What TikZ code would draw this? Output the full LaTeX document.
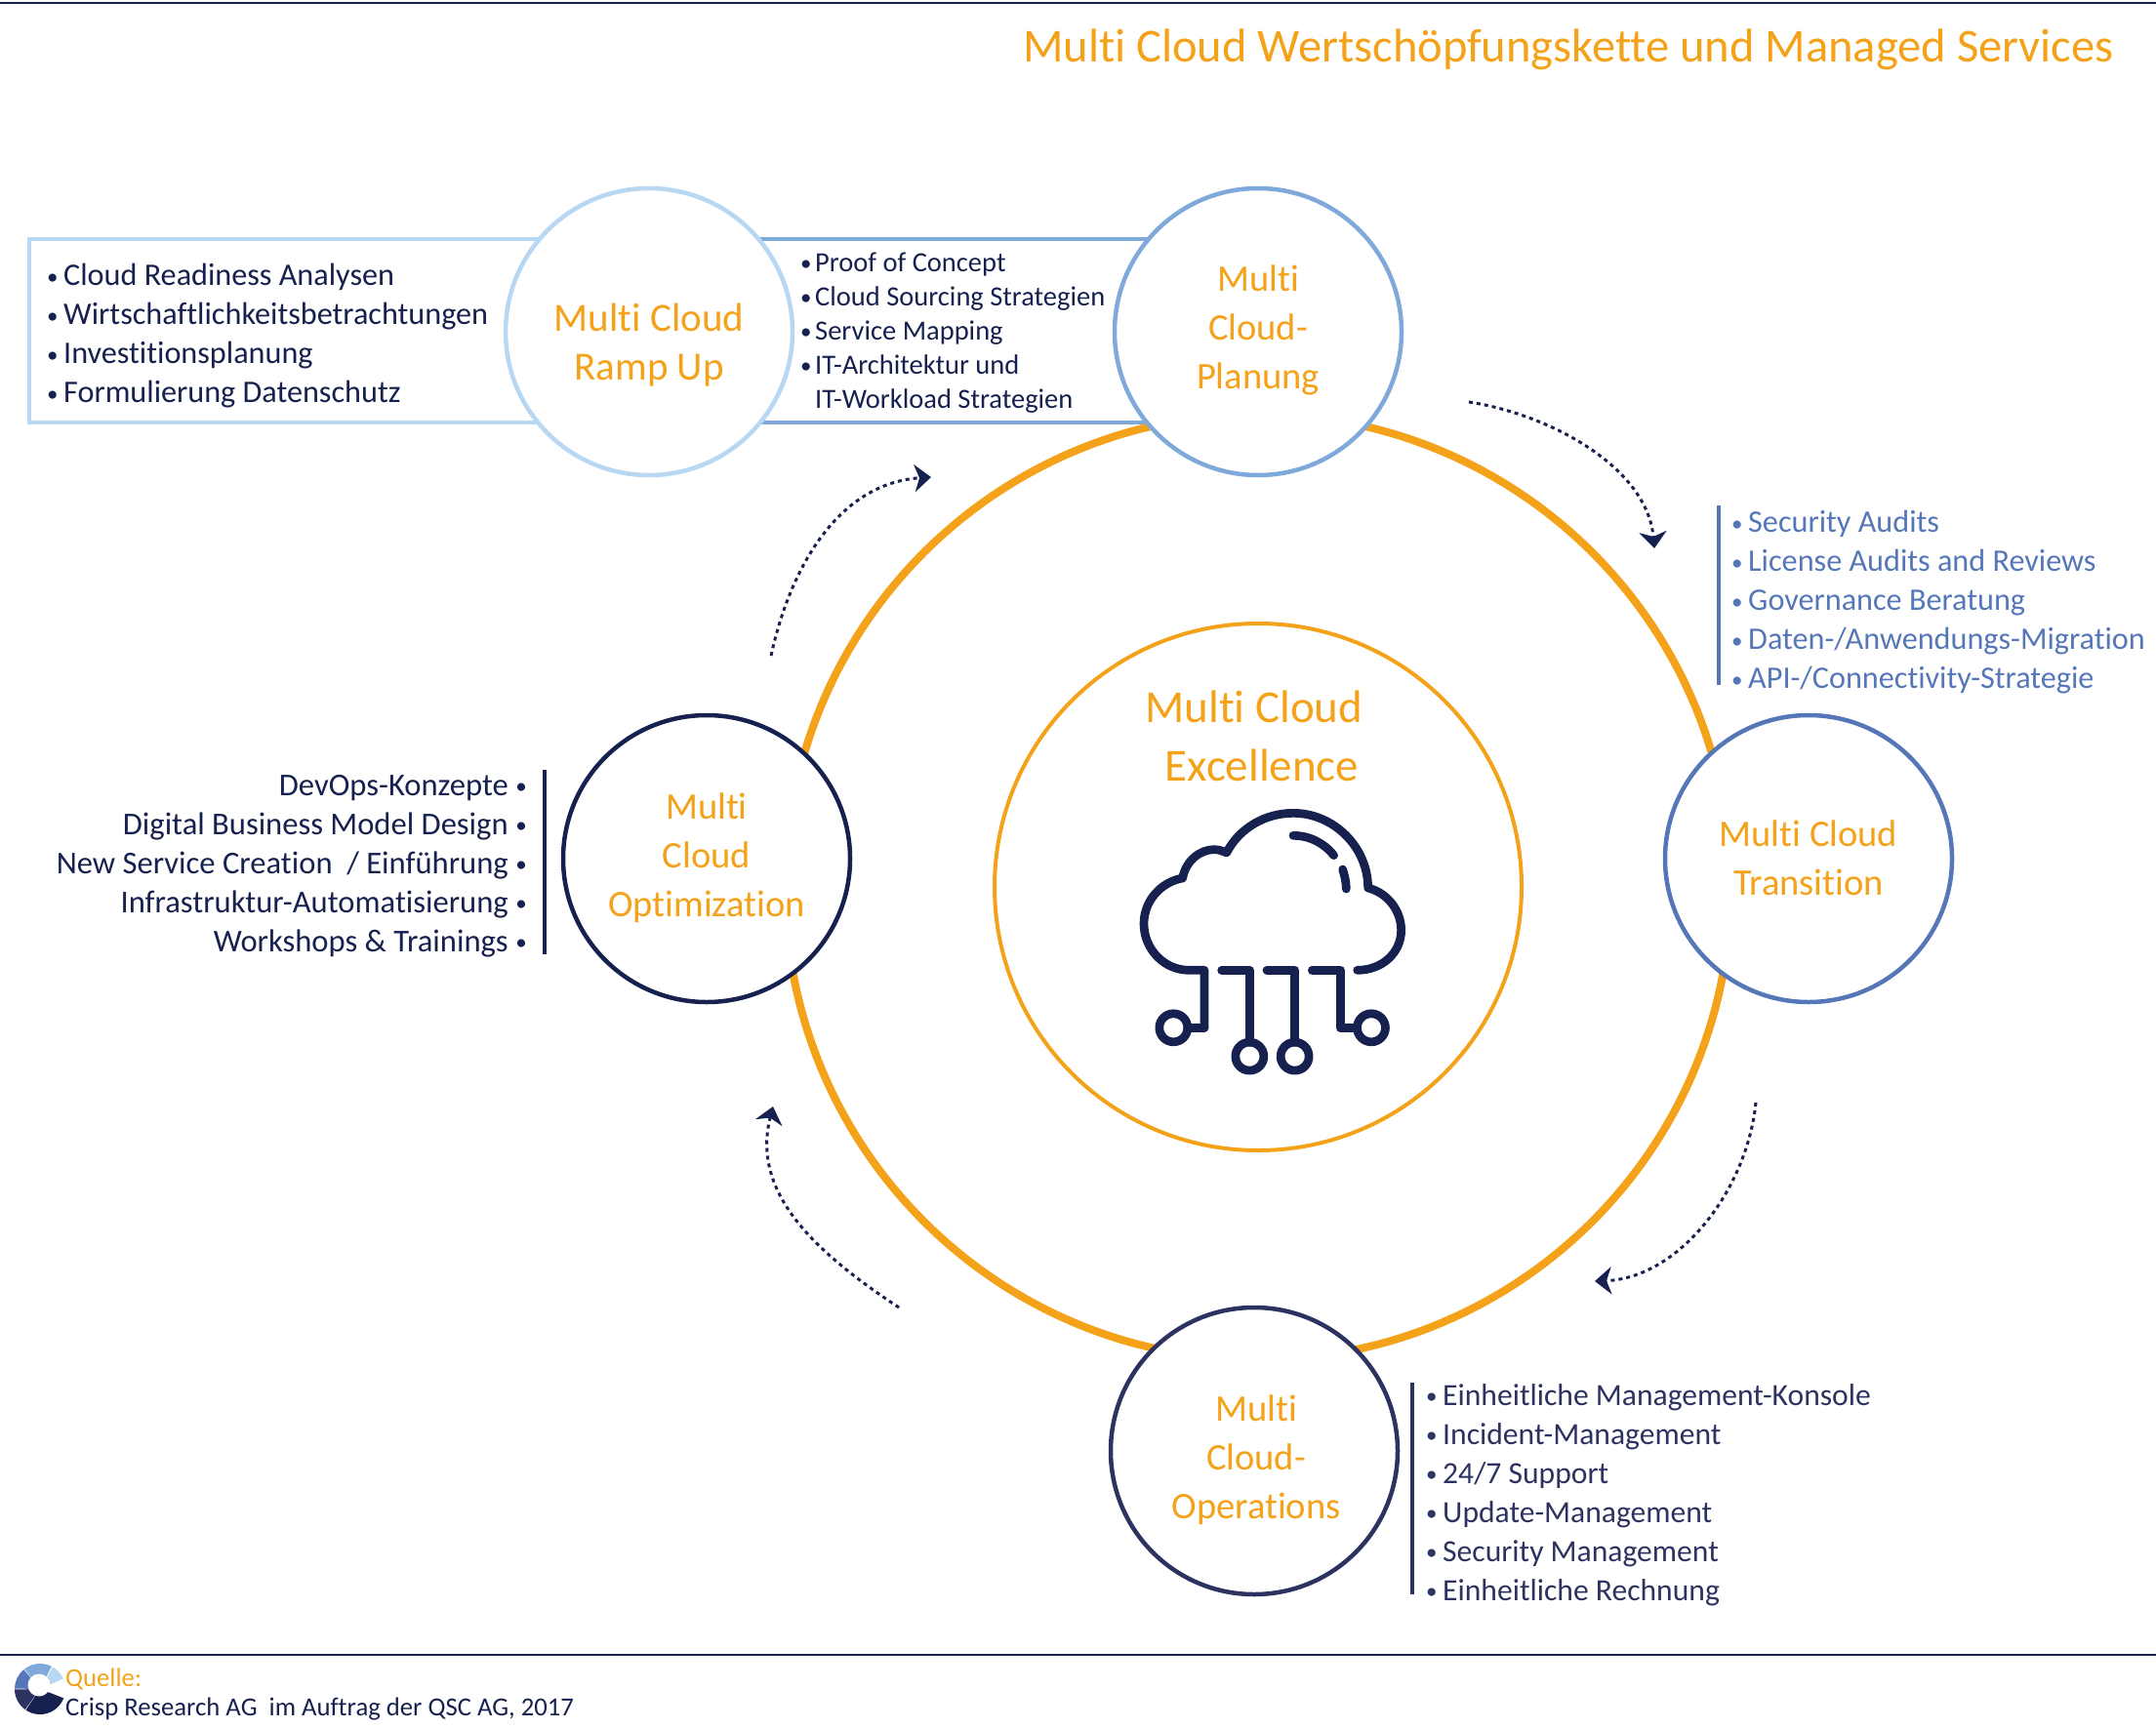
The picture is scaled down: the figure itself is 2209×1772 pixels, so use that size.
\documentclass[tikz,border=0pt]{standalone}
\usepackage{fontspec}
\setmainfont[Ligatures=NoCommon]{Carlito}
\usepackage{tikz}
\usetikzlibrary{arrows.meta}
\definecolor{navy}{HTML}{16214F}
\definecolor{deepnavy}{HTML}{2C3361}
\definecolor{orange}{HTML}{F4A21A}
\definecolor{paleblue}{HTML}{B7D7F2}
\definecolor{midblue}{HTML}{7FA9DB}
\definecolor{steelblue}{HTML}{5577B8}
\newcommand{\dotmark}{\raisebox{1.5pt}{\fontsize{23}{23}\selectfont •}}
\newcommand{\itm}{\makebox[17pt][l]{\dotmark}}
\newcommand{\smallitm}{\makebox[15pt][l]{\dotmark}}
\newcommand{\rightitm}{\makebox[19pt][r]{\dotmark}}

\begin{document}
\begin{tikzpicture}[x=1pt,y=-1pt]
  \tikzstyle{stage}=[circle,draw,fill=white,line width=4.5pt,minimum size=294pt,inner sep=0pt,outer sep=0pt]
  \tikzstyle{stagetext}=[align=center,text=orange,font=\fontsize{38.5}{50}\selectfont]
  \tikzstyle{items}=[anchor=north west,inner sep=0pt,align=left,font=\fontsize{32.2}{40}\selectfont]
  \tikzstyle{bar}=[line width=3.5pt]
  \tikzstyle{flow}=[draw=navy,line width=3pt,dash pattern=on 4pt off 4pt,-{Stealth[length=17pt,width=28pt,inset=5pt]}]
  \tikzstyle{icon}=[draw=navy,line width=8.7pt,line cap=round,line join=round]

  \useasboundingbox (0,0) rectangle (2209,1772);
  \draw[navy,line width=2pt] (0,2.5) -- (2209,2.5);
  \draw[navy,line width=2pt] (0,1696) -- (2209,1696);

  \node[anchor=north east,inner sep=0pt,text=orange,font=\fontsize{48.5}{58}\selectfont] (title) at (2166,29.5) {Multi Cloud Wertschöpfungskette und Managed Services};

  \draw[paleblue,line width=4pt] (665,245) -- (30,245) -- (30,433) -- (665,433);
  \draw[midblue,line width=4pt] (665,245) -- (1289,245);
  \draw[midblue,line width=4pt] (665,433) -- (1289,433);

  \node[circle,draw=orange,line width=8pt,minimum size=969pt,inner sep=0pt] (ring) at (1289,909) {};
  \node[circle,draw=orange,line width=4pt,minimum size=540pt,inner sep=0pt] (core) at (1289,909) {};

  \node[stage,draw=paleblue] (rampup) at (665,340) {};
  \node[stage,draw=midblue] (planung) at (1289,340) {};
  \node[stage,draw=steelblue] (transition) at (1853,880) {};
  \node[stage,draw=deepnavy] (operations) at (1285,1487) {};
  \node[stage,draw=navy] (optimization) at (724,880) {};

  \node[stagetext,font=\fontsize{41}{50}\selectfont] (rampuplabel) at (665,354) {Multi Cloud\\Ramp Up};
  \node[stagetext] (planunglabel) at (1289,338) {Multi\\Cloud-\\Planung};
  \node[stagetext] (transitionlabel) at (1853,879) {Multi Cloud\\Transition};
  \node[stagetext] (operationslabel) at (1287,1496) {Multi\\Cloud-\\Operations};
  \node[stagetext] (optimizationlabel) at (724,879) {Multi\\Cloud\\Optimization};
  \node[stagetext,font=\fontsize{47}{60}\selectfont] (corelabel) at (1285,754) {Multi Cloud\\\hspace*{16pt}Excellence};

  \node[items,text=navy] (readiness) at (48,270) {\itm Cloud Readiness Analysen\\\itm Wirtschaftlichkeitsbetrachtungen\\\itm Investitionsplanung\\\itm Formulierung Datenschutz};
  \node[items,text=navy,font=\fontsize{28.5}{35}\selectfont] (concept) at (820,259) {\smallitm Proof of Concept\\\smallitm Cloud Sourcing Strategien\\\smallitm Service Mapping\\\smallitm IT-Architektur und\\\makebox[15pt][l]{}IT-Workload Strategien};
  \node[items,text=steelblue] (audits) at (1774,523) {\itm Security Audits\\\itm License Audits and Reviews\\\itm Governance Beratung\\\itm Daten-/Anwendungs-Migration\\\itm API-/Connectivity-Strategie};
  \node[items,anchor=north east,align=right,text=navy,font=\fontsize{32.6}{40}\selectfont] (devops) at (540,794) {DevOps-Konzepte\rightitm\\Digital Business Model Design\rightitm\\New Service Creation ~/ Einführung\rightitm\\Infrastruktur-Automatisierung\rightitm\\Workshops \& Trainings\rightitm};
  \node[items,text=deepnavy,font=\fontsize{31.6}{40}\selectfont] (konsole) at (1461,1418) {\itm Einheitliche Management-Konsole\\\itm Incident-Management\\\itm 24/7 Support\\\itm Update-Management\\\itm Security Management\\\itm Einheitliche Rechnung};

  \coordinate (auditsup) at (1761,518);
  \coordinate (auditsdown) at (1761,702);
  \coordinate (devopsup) at (558,789);
  \coordinate (devopsdown) at (558,978);
  \coordinate (konsoleup) at (1447,1417);
  \coordinate (konsoledown) at (1447,1634);
  \draw[bar,steelblue] (auditsup) -- (auditsdown);
  \draw[bar,navy] (devopsup) -- (devopsdown);
  \draw[bar,deepnavy] (konsoleup) -- (konsoledown);

  \coordinate (flowa) at (1505,412);
  \coordinate (flowb) at (1695,562);
  \coordinate (flowc) at (1799,1130);
  \coordinate (flowd) at (1634,1313);
  \coordinate (flowe) at (921,1340);
  \coordinate (flowf) at (792,1134);
  \coordinate (flowg) at (790,672);
  \coordinate (flowh) at (954,489);
  \draw[flow] (flowa) .. controls (1590,425) and (1688,480) .. (flowb);
  \draw[flow] (flowc) .. controls (1790,1220) and (1720,1310) .. (flowd);
  \draw[flow] (flowe) .. controls (830,1280) and (770,1220) .. (flowf);
  \draw[flow] (flowg) .. controls (810,580) and (860,495) .. (flowh);

  \begin{scope}[shift={(1100,780)},x=0.3333pt,y=-0.3333pt]
    \draw[icon] (402,820) -- (402,643) -- (355,643)
      .. controls (278,643) and (216,578) .. (216,500)
      .. controls (216,430) and (268,372) .. (335,360)
      .. controls (345,305) and (390,272) .. (432,272)
      .. controls (445,272) and (458,276) .. (470,282)
      .. controls (510,205) and (590,160) .. (675,160)
      .. controls (800,160) and (905,265) .. (905,390)
      .. controls (965,405) and (1007,460) .. (1007,520)
      .. controls (1007,588) and (950,643) .. (872,643);
    \draw[icon] (402,820) -- (350,820);
    \draw[icon] (455,643) -- (541,643) -- (541,865);
    \draw[icon] (594,643) -- (680,643) -- (680,865);
    \draw[icon] (733,643) -- (820,643) -- (820,820) -- (872,820);
    \draw[icon] (675,229) .. controls (725,229) and (770,252) .. (800,290);
    \draw[icon] (827,333) .. controls (833,352) and (838,372) .. (838,393);
    \draw[icon] (307,820) circle[radius=43.5];
    \draw[icon] (541,908) circle[radius=43.5];
    \draw[icon] (680,908) circle[radius=43.5];
    \draw[icon] (915,820) circle[radius=43.5];
  \end{scope}

  \begin{scope}[shift={(41,1731)},y=1pt]
    \fill[paleblue] (0,0) -- (24:26) arc[start angle=24,end angle=60,radius=26] -- cycle;
    \fill[midblue] (0,0) -- (63:26) arc[start angle=63,end angle=128,radius=26] -- cycle;
    \fill[steelblue] (0,0) -- (130:26) arc[start angle=130,end angle=179,radius=26] -- cycle;
    \fill[deepnavy] (0,0) -- (181:26) arc[start angle=181,end angle=234,radius=26] -- cycle;
    \fill[navy] (0,0) -- (236:26) arc[start angle=236,end angle=339,radius=26] -- cycle;
    \fill[white] (-1,4) circle[radius=11.5];
  \end{scope}

  \node[anchor=base west,inner sep=0pt,text=orange,font=\fontsize{26.7}{30}\selectfont] (source) at (67,1728) {Quelle:};
  \node[anchor=base west,inner sep=0pt,text=navy,font=\fontsize{26.7}{30}\selectfont] (credit) at (67,1758) {Crisp Research AG ~im Auftrag der QSC AG, 2017};
\end{tikzpicture}
\end{document}
